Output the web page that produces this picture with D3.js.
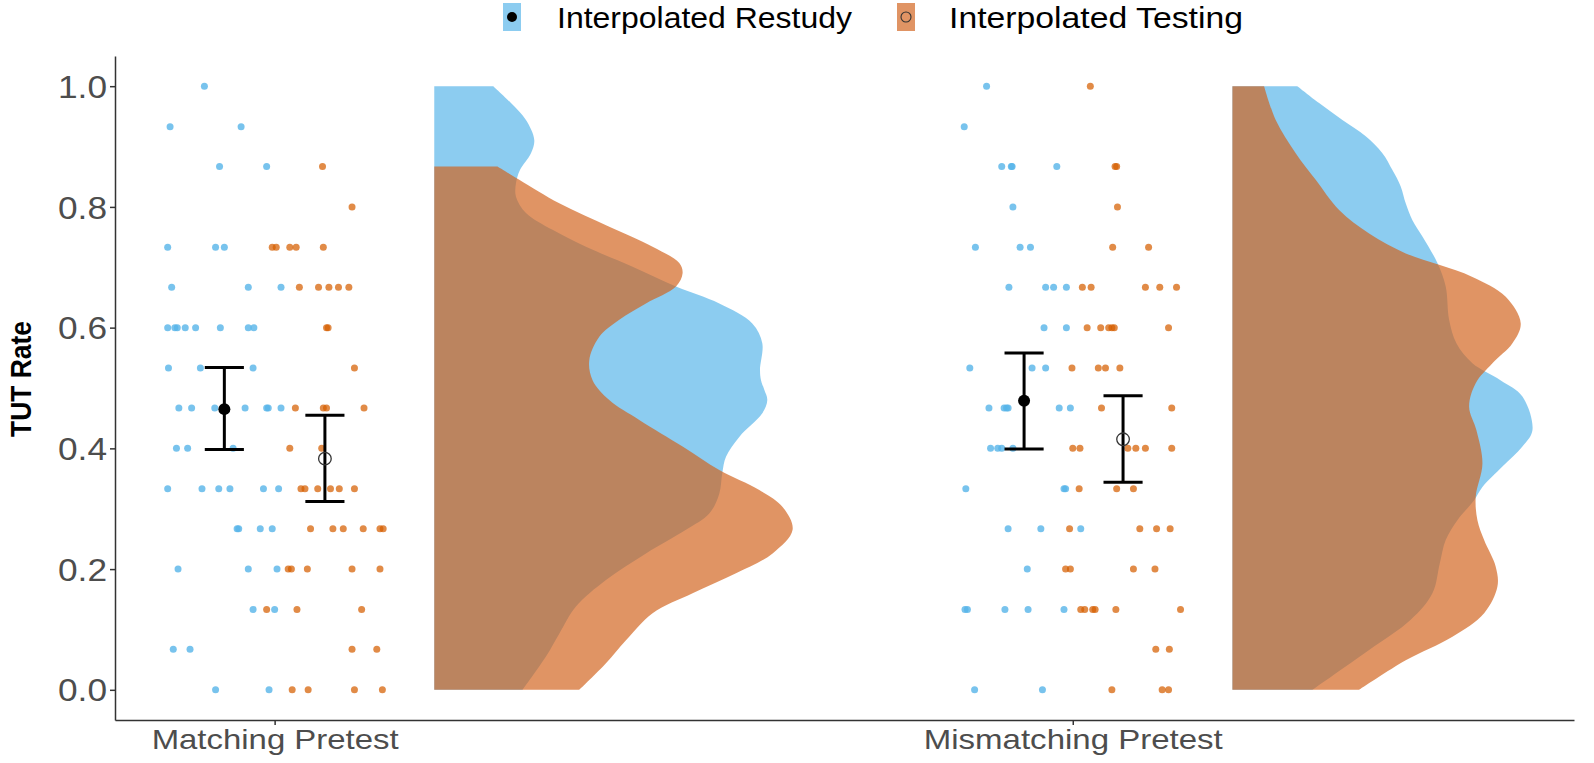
<!DOCTYPE html>
<html><head><meta charset="utf-8">
<script src="https://cdn.jsdelivr.net/npm/d3@7"></script>
<style>
html,body{margin:0;padding:0;background:#fff;}
svg{display:block;font-family:"Liberation Sans",Arial,sans-serif;}
</style></head>
<body><svg id="chart" width="1594" height="763"></svg>
<script>
// ---------- DATA ----------
const groups = ["Matching Pretest", "Mismatching Pretest"];
const groupPos = [1, 2];
const conditions = ["Interpolated Restudy", "Interpolated Testing"];
const yTicks = [0.0, 0.2, 0.4, 0.6, 0.8, 1.0];

// jittered raw points: [x position, TUT rate]
const matchRestudyPts = [
[0.912,1.0],[0.869,0.933],[0.958,0.933],[0.931,0.867],[0.990,0.867],
[0.866,0.733],[0.926,0.733],[0.937,0.733],[0.871,0.667],[0.967,0.667],[1.008,0.667],
[0.866,0.6],[0.875,0.6],[0.878,0.6],[0.888,0.6],[0.901,0.6],[0.932,0.6],[0.967,0.6],[0.974,0.6],
[0.867,0.533],[0.907,0.533],[0.973,0.533],
[0.880,0.467],[0.896,0.467],[0.925,0.467],[0.963,0.467],[0.990,0.467],[0.992,0.467],[1.008,0.467],
[0.877,0.4],[0.891,0.4],[0.948,0.4],
[0.866,0.333],[0.909,0.333],[0.930,0.333],[0.944,0.333],[0.986,0.333],[1.005,0.333],
[0.953,0.267],[0.955,0.267],[0.982,0.267],[0.997,0.267],
[0.879,0.2],[0.967,0.2],[1.003,0.2],[0.973,0.133],[1.000,0.133],
[0.873,0.067],[0.894,0.067],[0.926,0],[0.993,0]];
const matchTestingPts = [
[1.060,0.867],[1.097,0.8],
[0.997,0.733],[1.002,0.733],[1.019,0.733],[1.027,0.733],[1.061,0.733],
[1.031,0.667],[1.055,0.667],[1.068,0.667],[1.080,0.667],[1.093,0.667],
[1.065,0.6],[1.067,0.6],[1.100,0.533],
[1.026,0.467],[1.061,0.467],[1.065,0.467],[1.112,0.467],
[1.019,0.4],[1.059,0.4],
[1.033,0.333],[1.038,0.333],[1.054,0.333],[1.070,0.333],[1.081,0.333],[1.100,0.333],
[1.045,0.267],[1.073,0.267],[1.086,0.267],[1.111,0.267],[1.132,0.267],[1.136,0.267],
[1.017,0.2],[1.021,0.2],[1.041,0.2],[1.097,0.2],[1.132,0.2],
[0.990,0.133],[1.028,0.133],[1.109,0.133],[1.097,0.067],[1.128,0.067],
[1.022,0],[1.042,0],[1.100,0],[1.135,0]];
const mismatchRestudyPts = [
[1.892,1.0],[1.864,0.933],
[1.911,0.867],[1.923,0.867],[1.924,0.867],[1.980,0.867],[1.925,0.8],
[1.878,0.733],[1.934,0.733],[1.947,0.733],
[1.920,0.667],[1.966,0.667],[1.976,0.667],[1.992,0.667],
[1.964,0.6],[1.992,0.6],[1.871,0.533],[1.949,0.533],[1.966,0.533],
[1.895,0.467],[1.914,0.467],[1.917,0.467],[1.919,0.467],[1.983,0.467],[1.997,0.467],
[1.897,0.4],[1.906,0.4],[1.911,0.4],[1.925,0.4],
[1.866,0.333],[1.989,0.333],[1.991,0.333],
[1.919,0.267],[1.960,0.267],[2.010,0.267],[1.943,0.2],
[1.865,0.133],[1.868,0.133],[1.915,0.133],[1.944,0.133],[1.989,0.133],
[1.877,0],[1.962,0]];
const mismatchTestingPts = [
[2.022,1.0],[2.053,0.867],[2.055,0.867],[2.056,0.8],[2.050,0.733],[2.095,0.733],
[2.012,0.667],[2.023,0.667],[2.091,0.667],[2.109,0.667],[2.130,0.667],
[2.018,0.6],[2.035,0.6],[2.045,0.6],[2.049,0.6],[2.052,0.6],[2.120,0.6],
[1.999,0.533],[2.032,0.533],[2.041,0.533],[2.059,0.533],
[2.036,0.467],[2.124,0.467],
[2.000,0.4],[2.009,0.4],[2.069,0.4],[2.079,0.4],[2.091,0.4],[2.124,0.4],
[2.008,0.333],[2.055,0.333],[2.076,0.333],
[1.996,0.267],[2.084,0.267],[2.105,0.267],[2.122,0.267],
[1.991,0.2],[1.997,0.2],[2.076,0.2],[2.103,0.2],
[2.010,0.133],[2.015,0.133],[2.025,0.133],[2.028,0.133],[2.054,0.133],[2.135,0.133],
[2.104,0.067],[2.121,0.067],[2.049,0],[2.112,0],[2.120,0]];

// summary: [x position, mean, lower, upper]
const matchRestudySummary    = [0.937, 0.465, 0.398, 0.534];
const matchTestingSummary    = [1.063, 0.383, 0.312, 0.455];
const mismatchRestudySummary = [1.939, 0.479, 0.399, 0.558];
const mismatchTestingSummary = [2.063, 0.415, 0.344, 0.487];

// density profiles: [TUT rate, density (arbitrary units)]
const matchRestudyDens = [[0,88.3],[0.055,111.7],[0.093,125],[0.138,141.7],[0.182,171.7],[0.226,211.7],[0.265,251.7],[0.292,275],[0.325,285],[0.359,288],[0.386,291.7],[0.419,305],[0.458,328],[0.480,333],[0.497,330],[0.513,326.7],[0.530,325.7],[0.574,328],[0.607,318],[0.640,285],[0.668,241.7],[0.701,198.3],[0.734,151.7],[0.762,118.3],[0.790,91.7],[0.817,81.7],[0.839,81.7],[0.861,85.7],[0.889,96.7],[0.911,100],[0.944,91.7],[0.972,76.7],[1.0,59]];
const matchTestingDens = [[0,145],[0.044,171.7],[0.082,191.7],[0.127,218.3],[0.160,258.3],[0.193,301.7],[0.226,338.3],[0.265,358.3],[0.303,348.3],[0.331,325],[0.364,285],[0.403,248.3],[0.447,205],[0.480,175],[0.513,158.3],[0.546,155],[0.585,165],[0.613,185],[0.640,211.7],[0.668,241.7],[0.690,248.3],[0.707,245],[0.734,218.3],[0.767,175],[0.806,125],[0.845,85],[0.867,63.3]];
const mismatchRestudyDens = [[0,80],[0.066,136.7],[0.116,178.3],[0.160,200],[0.209,207.3],[0.248,213.3],[0.281,225],[0.314,241.7],[0.336,250],[0.370,270],[0.403,290],[0.430,300],[0.486,290],[0.513,268],[0.541,240],[0.574,224],[0.613,216.7],[0.668,213.3],[0.707,205],[0.751,190],[0.778,180],[0.806,173.3],[0.834,168.3],[0.861,160],[0.889,150],[0.917,133.3],[0.944,110],[0.972,86.7],[1.0,65]];
const mismatchTestingDens = [[0,126.7],[0.049,173.3],[0.088,220],[0.127,251.7],[0.171,265],[0.204,263.3],[0.248,251.7],[0.281,245],[0.320,243.3],[0.375,250],[0.430,244],[0.469,236.7],[0.508,243.3],[0.541,260],[0.574,280],[0.607,288.3],[0.651,273.3],[0.684,240],[0.704,206.7],[0.723,173.3],[0.756,136.7],[0.795,106.7],[0.845,83.3],[0.889,63.3],[0.944,43.3],[1.0,31.7]];

// ---------- STYLE ----------
const colBlue = "#56B4E9", colOrange = "#D2611A";
const svg = d3.select("#chart");

const xScale = d3.scaleLinear().domain([0.8, 2.628]).range([115, 1574]);
const yScale = d3.scaleLinear().domain([-0.05, 1.05]).range([720, 56]);
const densScale = d3.scaleLinear().domain([0, 360]).range([0, 0.4511]);
const violinOffset = 0.2;

const series = [
  {pts: matchRestudyPts, sum: matchRestudySummary, dens: matchRestudyDens, g: 0, c: 0},
  {pts: mismatchRestudyPts, sum: mismatchRestudySummary, dens: mismatchRestudyDens, g: 1, c: 0},
  {pts: matchTestingPts, sum: matchTestingSummary, dens: matchTestingDens, g: 0, c: 1},
  {pts: mismatchTestingPts, sum: mismatchTestingSummary, dens: mismatchTestingDens, g: 1, c: 1}
];
const fillCol = [colBlue, colOrange];
const violinOpacity = [0.68, 0.68];
const pointOpacity = [0.8, 0.72];

// violins
series.forEach(s => {
  const base = groupPos[s.g] + violinOffset;
  const area = d3.area()
    .y(d => yScale(d[0]))
    .x0(xScale(base))
    .x1(d => xScale(base + densScale(d[1])))
    .curve(d3.curveCatmullRom.alpha(0.5));
  svg.append("path").attr("d", area(s.dens))
    .attr("fill", fillCol[s.c]).attr("fill-opacity", violinOpacity[s.c]);
});

// points
series.forEach(s => {
  svg.append("g").selectAll("circle").data(s.pts).join("circle")
    .attr("cx", d => xScale(d[0])).attr("cy", d => yScale(d[1]))
    .attr("r", 3.5).attr("fill", s.c === 0 ? colBlue : "#D55E00").attr("fill-opacity", pointOpacity[s.c]);
});

// error bars and means
const capHalf = 0.0245;
series.forEach(s => {
  const [x, m, lo, hi] = s.sum;
  const g = svg.append("g").attr("stroke", "#000").attr("stroke-width", 3);
  g.append("line").attr("x1", xScale(x)).attr("x2", xScale(x)).attr("y1", yScale(lo)).attr("y2", yScale(hi));
  g.append("line").attr("x1", xScale(x - capHalf)).attr("x2", xScale(x + capHalf)).attr("y1", yScale(lo)).attr("y2", yScale(lo));
  g.append("line").attr("x1", xScale(x - capHalf)).attr("x2", xScale(x + capHalf)).attr("y1", yScale(hi)).attr("y2", yScale(hi));
  if (s.c === 0) {
    svg.append("circle").attr("cx", xScale(x)).attr("cy", yScale(m)).attr("r", 6).attr("fill", "#000");
  } else {
    svg.append("circle").attr("cx", xScale(x)).attr("cy", yScale(m)).attr("r", 6.3)
      .attr("fill", "none").attr("stroke", "#333").attr("stroke-width", 1.3);
  }
});

// axes
const axisCol = "#333333";
const yAxis = svg.append("g").attr("transform", "translate(115,0)")
  .call(d3.axisLeft(yScale).tickValues(yTicks).tickFormat(d3.format(".1f")).tickSize(5).tickPadding(3).tickSizeOuter(0));
yAxis.select(".domain").attr("stroke", axisCol).attr("stroke-width", 1.5);
yAxis.selectAll(".tick line").attr("stroke", axisCol).attr("stroke-width", 1.5);
yAxis.selectAll(".tick text").attr("font-size", 31).attr("font-family", "Liberation Sans, Arial, sans-serif")
  .attr("fill", "#4D4D4D").attr("dy", "0.36em").attr("textLength", 49).attr("lengthAdjust", "spacingAndGlyphs");

const xLabelLen = [247, 299];
const xAxis = svg.append("g").attr("transform", "translate(0,720)")
  .call(d3.axisBottom(xScale).tickValues(groupPos).tickFormat((d, i) => groups[i]).tickSize(5).tickPadding(4).tickSizeOuter(0));
xAxis.select(".domain").attr("stroke", axisCol).attr("stroke-width", 1.5);
xAxis.selectAll(".tick line").attr("stroke", axisCol).attr("stroke-width", 1.5);
xAxis.selectAll(".tick text").attr("font-size", 28.5).attr("font-family", "Liberation Sans, Arial, sans-serif")
  .attr("fill", "#4D4D4D").attr("textLength", (d, i) => xLabelLen[i]).attr("lengthAdjust", "spacingAndGlyphs");

// y title
svg.append("text").attr("transform", "translate(31,379) rotate(-90)")
  .attr("text-anchor", "middle").attr("font-size", 29).attr("font-weight", "bold").attr("fill", "#000")
  .attr("textLength", 116).attr("lengthAdjust", "spacingAndGlyphs").text("TUT Rate");

// legend
const legendX = [503, 897], legendTextX = [557, 949], legendTextLen = [295, 294];
conditions.forEach((name, i) => {
  svg.append("rect").attr("x", legendX[i]).attr("y", 3).attr("width", 18).attr("height", 28)
    .attr("fill", fillCol[i]).attr("fill-opacity", violinOpacity[i]);
  if (i === 0) {
    svg.append("circle").attr("cx", legendX[i] + 9).attr("cy", 17).attr("r", 5).attr("fill", "#000");
  } else {
    svg.append("circle").attr("cx", legendX[i] + 9).attr("cy", 17).attr("r", 5)
      .attr("fill", "none").attr("stroke", "#333").attr("stroke-width", 1.1);
  }
  svg.append("text").attr("x", legendTextX[i]).attr("y", 27.5).attr("font-size", 30).attr("fill", "#000")
    .attr("textLength", legendTextLen[i]).attr("lengthAdjust", "spacingAndGlyphs").text(name);
});
</script></body></html>
